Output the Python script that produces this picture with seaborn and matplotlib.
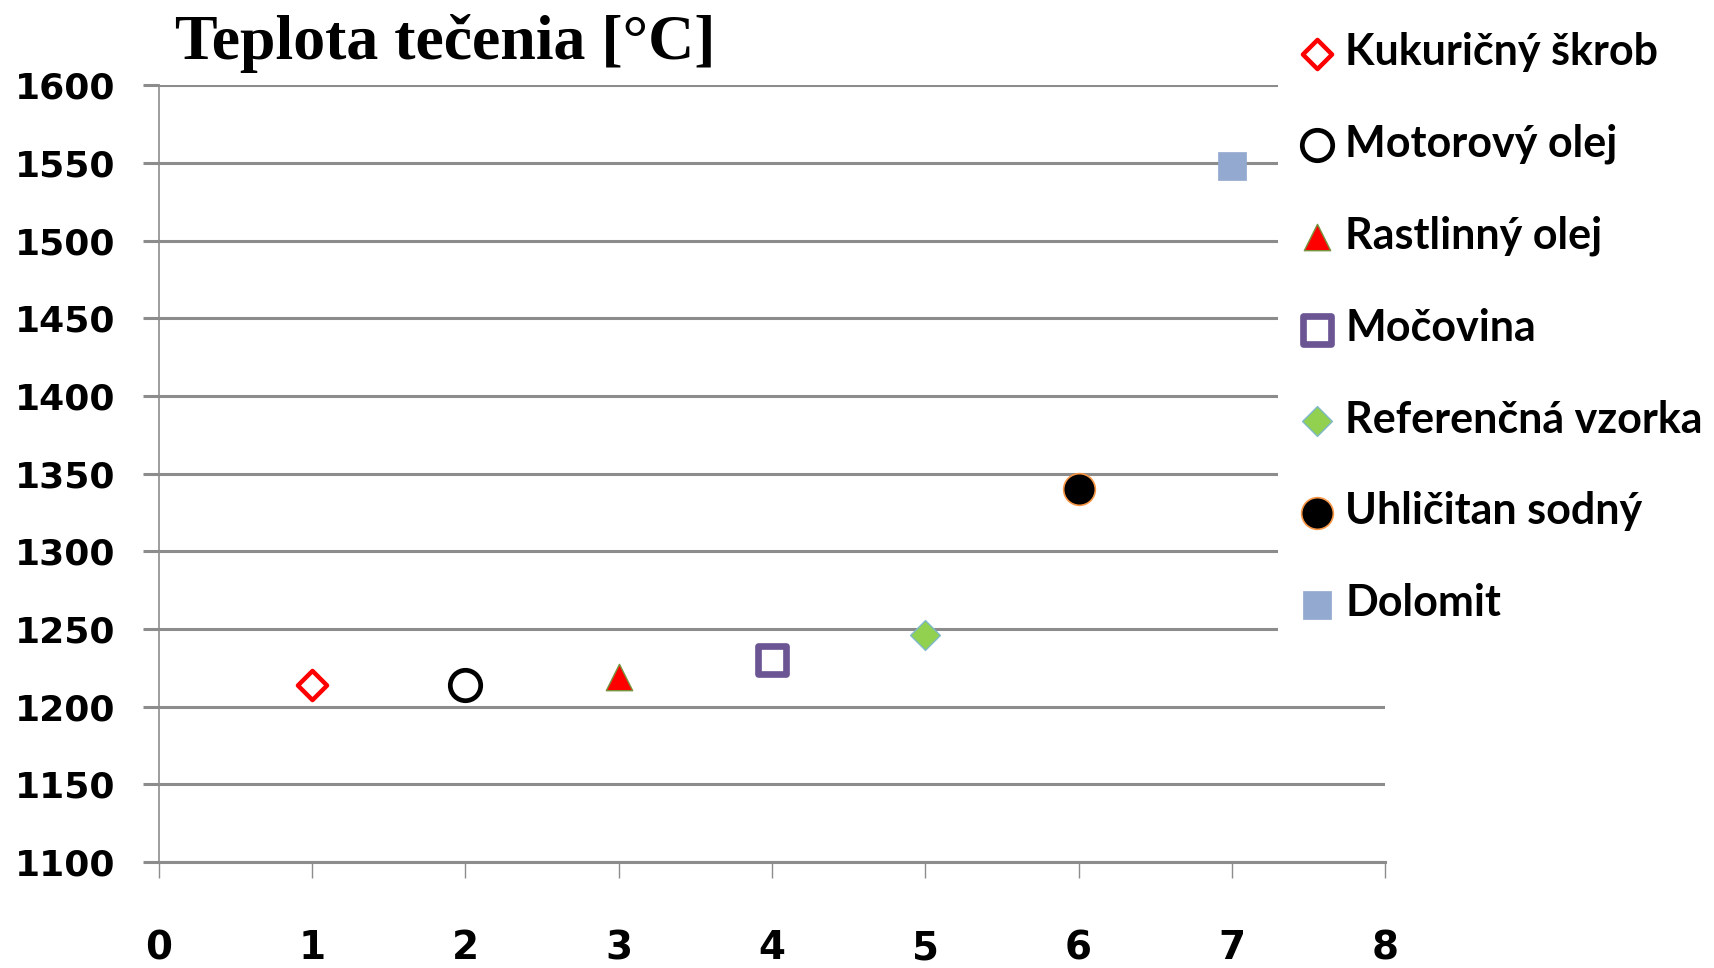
import matplotlib
matplotlib.use("Agg")
import matplotlib.pyplot as plt
import seaborn as sns
import numpy as np

# ---- data ----
series_names = ["Kukuričný škrob", "Motorový olej", "Rastlinný olej", "Močovina",
                "Referenčná vzorka", "Uhličitan sodný", "Dolomit"]
x_values = [1, 2, 3, 4, 5, 6, 7]
y_values = [1214, 1214, 1219, 1230, 1246, 1340, 1548]
y_ticks = [1100, 1150, 1200, 1250, 1300, 1350, 1400, 1450, 1500, 1550, 1600]
x_ticks = [0, 1, 2, 3, 4, 5, 6, 7, 8]
title_text = "Teplota tečenia [°C]"

# ---- styles ----
styles = [
    dict(marker="D", s=220, color="white", edgecolor="#FF0000", linewidth=3.2),
    dict(marker="o", s=480, color="white", edgecolor="#000000", linewidth=3.4),
    dict(marker="^", s=360, color="#FF0000", edgecolor="#77933C", linewidth=1.0),
    dict(marker="s", s=400, color="white", edgecolor="#6B5593", linewidth=4.8),
    dict(marker="D", s=230, color="#92D050", edgecolor="#7FB9C9", linewidth=1.0),
    dict(marker="o", s=520, color="#000000", edgecolor="#F79646", linewidth=1.2),
    dict(marker="s", s=420, color="#93A9CF", edgecolor="#93A9CF", linewidth=0.5),
]

sns.set_theme(style="white")
plt.rcParams['font.family'] = ['DejaVu Sans']
plt.rcParams['text.color'] = 'black'
plt.rcParams['xtick.labelcolor'] = 'black'
plt.rcParams['ytick.labelcolor'] = 'black'

fig = plt.figure(figsize=(17.15, 9.68), dpi=100)
ax = fig.add_axes([0.0927, 0.1095, 0.8076 - 0.0927, 0.912 - 0.1095])

for name, xv, yv, st in zip(series_names, x_values, y_values, styles):
    sns.scatterplot(x=[xv], y=[yv], ax=ax, label=name, zorder=3, **st)

ax.set_xlim(0, 8)
ax.set_ylim(1100, 1600)
ax.set_xticks(x_ticks)
ax.set_yticks(y_ticks)
ax.set_xlabel("")
ax.set_ylabel("")

grid_c = "#8C8C8C"
ax.yaxis.grid(True, color=grid_c, linewidth=2.2)
ax.xaxis.grid(False)
ax.set_axisbelow(True)
for side in ["top", "right"]:
    ax.spines[side].set_visible(False)
ax.spines["left"].set_color(grid_c)
ax.spines["left"].set_linewidth(1.2)
ax.spines["bottom"].set_color(grid_c)
ax.spines["bottom"].set_linewidth(2.2)

tick_font = dict(family=['DejaVu Sans'], weight='bold', size=26, color='black')
ax.tick_params(axis="y", which="major", direction="out", length=11.5, width=2.2,
               color=grid_c, pad=20, left=True, labelcolor='black')
ax.tick_params(axis="x", which="major", direction="out", length=11.5, width=1.0,
               color=grid_c, pad=37, bottom=True, labelcolor='black')
ax.set_yticklabels([str(v) for v in y_ticks], **tick_font)
ax.set_xticklabels([str(v) for v in x_ticks], **dict(tick_font, size=28))

fig.text(0.2595, 0.955, title_text, ha="center", va="center", color='black',
         family=['Liberation Serif', 'DejaVu Serif'], weight='bold', size=46)

leg = ax.get_legend()
if leg is not None:
    leg.remove()
handles, labels = ax.get_legend_handles_labels()
lg = fig.legend(handles, labels, loc="upper left", bbox_to_anchor=(0.745, 0.988),
                frameon=True, facecolor="white", edgecolor="white", framealpha=1.0,
                fancybox=False, borderpad=0.47, handlelength=0.9, handletextpad=0.2,
                labelspacing=1.20, borderaxespad=0.0, labelcolor='black',
                prop=dict(family=['Lato', 'DejaVu Sans'], weight='bold', size=31))
lg.get_frame().set_linewidth(0)

fig.savefig("out.png", dpi=100, facecolor="white")
